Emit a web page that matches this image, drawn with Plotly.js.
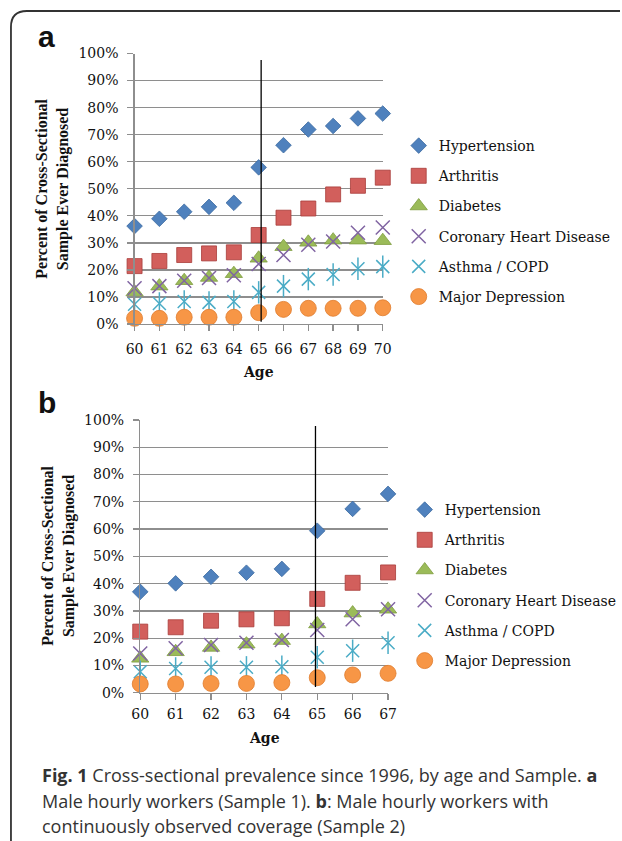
<!DOCTYPE html>
<html><head><meta charset="utf-8">
<script src="https://cdn.plot.ly/plotly-3.0.1.min.js"></script>
<style>html,body{margin:0;padding:0;background:#fff}#chart{width:622px;height:841px}</style>
</head><body><div id="chart"></div>
<script>
// ---------- data (percent) ----------
const agesA = [60,61,62,63,64,65,66,67,68,69,70];
const hypertensionA = [36.2,38.9,41.5,43.3,44.8,57.9,66.1,71.9,73.2,76.0,77.8];
const arthritisA    = [21.4,23.3,25.5,26.1,26.5,32.9,39.3,42.7,47.9,51.1,54.1];
const diabetesA     = [11.8,14.0,16.0,17.2,18.6,24.3,28.6,30.2,31.0,31.0,30.8];
const coronaryA     = [13.2,14.0,16.0,17.0,18.0,22.2,25.5,29.3,30.5,33.7,35.7];
const asthmaA       = [7.3,7.6,8.3,8.0,8.3,11.7,14.0,16.6,18.3,20.4,21.2];
const depressionA   = [2.1,2.1,2.5,2.5,2.5,4.2,5.4,5.8,5.8,5.8,6.0];

const agesB = [60,61,62,63,64,65,66,67];
const hypertensionB = [37.0,40.1,42.5,44.0,45.4,59.4,67.4,72.9];
const arthritisB    = [22.4,24.0,26.4,26.9,27.3,34.4,40.3,44.1];
const diabetesB     = [12.6,15.0,16.6,17.8,19.1,25.2,29.2,30.6];
const coronaryB     = [14.4,16.3,17.5,18.3,19.3,23.0,26.9,30.6];
const asthmaB       = [7.7,8.9,9.3,9.3,9.5,13.0,15.4,18.3];
const depressionB   = [3.2,3.2,3.4,3.4,3.7,5.5,6.5,7.1];

const seriesNames = ['Hypertension','Arthritis','Diabetes','Coronary Heart Disease','Asthma / COPD','Major Depression'];
const yTickVals = [0,10,20,30,40,50,60,70,80,90,100];
const yTickText = ['0%','10%','20%','30%','40%','50%','60%','70%','80%','90%','100%'];

// ---------- styles ----------
const W = 622, H = 841;
const px = v => v / W;
const py = v => 1 - v / H;
const serif = 'DejaVu Serif';
const gridCol = '#8e8e8e';

const styles = [
  {symbol:'diamond', size:12, color:'#4f81bd', line:{color:'#3b6aa0', width:0.8}},
  {symbol:'square', size:15, color:'#d25f5c', line:{color:'#a83c3a', width:0.8}},
  {symbol:'triangle-up', size:15, color:'#9bbb59', line:{color:'#7d9c3e', width:0.8}},
  {symbol:'x-thin', size:14, color:'#8064a2', line:{color:'#8064a2', width:1.5}},
  {symbol:'x-thin', size:13, color:'#4bacc6', line:{color:'#4bacc6', width:1.5}},
  {symbol:'circle', size:16, color:'#f79646', line:{color:'#e07b2c', width:0.8}}
];

function makeTraces(ages, vals, xa, ya, leg) {
  const out = [];
  vals.forEach((v, i) => {
    const s = styles[i];
    out.push({
      type:'scatter', mode:'markers', x: ages, y: v, name: seriesNames[i],
      xaxis: xa, yaxis: ya, legend: leg, legendgroup: leg + i,
      cliponaxis:false, hoverinfo:'skip',
      marker:{symbol:s.symbol, size:s.size, color:s.color, line:s.line}
    });
    if (i === 4) {
      out.push({
        type:'scatter', mode:'markers', x: ages, y: v, name: seriesNames[i],
        xaxis: xa, yaxis: ya, legend: leg, legendgroup: leg + i, showlegend:false,
        cliponaxis:false, hoverinfo:'skip',
        marker:{symbol:'line-ns', size:16, color:s.color, line:{color:s.color, width:1.5}}
      });
    }
  });
  return out;
}

const traces = [].concat(
  makeTraces(agesA, [hypertensionA, arthritisA, diabetesA, coronaryA, asthmaA, depressionA], 'x', 'y', 'legend'),
  makeTraces(agesB, [hypertensionB, arthritisB, diabetesB, coronaryB, asthmaB, depressionB], 'x2', 'y2', 'legend2')
);

function xAxis(dom, ages, anchor, standoff) {
  return {domain: dom, anchor: anchor, range:[ages[0], ages[ages.length-1]],
    tickvals: ages, ticktext: ages.map(String), showgrid:false, zeroline:false,
    showline:true, linecolor:gridCol, linewidth:1.3, ticks:'outside', ticklen:6, tickcolor:gridCol, tickwidth:1.3,
    ticklabelstandoff: standoff, tickfont:{family:serif, size:14, color:'#111'}, fixedrange:true};
}
function yAxis(dom, anchor) {
  return {domain: dom, anchor: anchor, range:[0,100], tickvals:yTickVals, ticktext:yTickText,
    showgrid:true, gridcolor:gridCol, gridwidth:1.3, zeroline:false,
    showline:true, linecolor:gridCol, linewidth:1.3, ticks:'outside', ticklen:6, tickcolor:gridCol, tickwidth:1.3,
    ticklabelstandoff: 6, tickfont:{family:serif, size:14, color:'#111'}, fixedrange:true};
}

const borderPath = `M ${px(11)},0 L ${px(11)},${py(27)} Q ${px(11)},${py(11)} ${px(27)},${py(11)} L 1,${py(11)}`;

const legendFont = {family:serif, size:14, color:'#111'};

const layout = {
  width: W, height: H, margin:{l:0,r:0,t:0,b:0},
  paper_bgcolor:'#fff', plot_bgcolor:'rgba(0,0,0,0)',
  font:{family:serif, color:'#111'},
  xaxis: xAxis([px(135), px(384)], agesA, 'y', 6),
  yaxis: yAxis([py(324), py(53.5)], 'x'),
  xaxis2: xAxis([px(140.7), px(389.3)], agesB, 'y2', 2),
  yaxis2: yAxis([py(692.7), py(420)], 'x2'),
  legend: {x: px(400), xanchor:'left', y: py(130), yanchor:'top', bgcolor:'rgba(0,0,0,0)',
    font:legendFont, tracegroupgap:9, traceorder:'grouped', itemclick:false},
  legend2: {x: px(406), xanchor:'left', y: py(494), yanchor:'top', bgcolor:'rgba(0,0,0,0)',
    font:legendFont, tracegroupgap:9, traceorder:'grouped', itemclick:false},
  shapes: [
    {type:'path', xref:'paper', yref:'paper', path: borderPath, line:{color:'#333', width:1.8}},
    {type:'line', xref:'x', yref:'y', x0:65.1, x1:65.1, y0:0.8, y1:97.6, line:{color:'#000', width:1.3}},
    {type:'line', xref:'x2', yref:'y2', x0:64.95, x1:64.95, y0:2.1, y1:97.8, line:{color:'#000', width:1.3}}
  ],
  annotations: [
    {xref:'paper', yref:'paper', x:px(36), y:py(36), xanchor:'left', yanchor:'middle', showarrow:false,
      text:'<b>a</b>', font:{family:'Liberation Sans', size:30, color:'#111'}},
    {xref:'paper', yref:'paper', x:px(36), y:py(402), xanchor:'left', yanchor:'middle', showarrow:false,
      text:'<b>b</b>', font:{family:'Liberation Sans', size:30, color:'#111'}},
    {xref:'paper', yref:'paper', x:px(52), y:py(189), xanchor:'center', yanchor:'middle', showarrow:false, textangle:-90,
      text:'<b>Percent of Cross-Sectional<br>Sample Ever Diagnosed</b>', font:{family:'Liberation Serif', size:16, color:'#111'}},
    {xref:'paper', yref:'paper', x:px(58), y:py(556), xanchor:'center', yanchor:'middle', showarrow:false, textangle:-90,
      text:'<b>Percent of Cross-Sectional<br>Sample Ever Diagnosed</b>', font:{family:'Liberation Serif', size:16, color:'#111'}},
    {xref:'paper', yref:'paper', x:px(259.5), y:py(372), xanchor:'center', yanchor:'middle', showarrow:false,
      text:'<b>Age</b>', font:{family:serif, size:14, color:'#111'}},
    {xref:'paper', yref:'paper', x:px(265), y:py(738), xanchor:'center', yanchor:'middle', showarrow:false,
      text:'<b>Age</b>', font:{family:serif, size:14, color:'#111'}},
    {xref:'paper', yref:'paper', x:px(40), y:py(775), xanchor:'left', yanchor:'middle', showarrow:false, align:'left',
      text:'<b>Fig. 1</b> Cross-sectional prevalence since 1996, by age and Sample. <b>a</b>', font:{family:'Open Sans', size:18, color:'#333'}},
    {xref:'paper', yref:'paper', x:px(40), y:py(801), xanchor:'left', yanchor:'middle', showarrow:false, align:'left',
      text:'Male hourly workers (Sample 1). <b>b</b>: Male hourly workers with', font:{family:'Open Sans', size:18, color:'#333'}},
    {xref:'paper', yref:'paper', x:px(40), y:py(826), xanchor:'left', yanchor:'middle', showarrow:false, align:'left',
      text:'continuously observed coverage (Sample 2)', font:{family:'Open Sans', size:18, color:'#333'}}
  ]
};

Plotly.newPlot('chart', traces, layout, {staticPlot:true, displayModeBar:false});
</script>
</body></html>
